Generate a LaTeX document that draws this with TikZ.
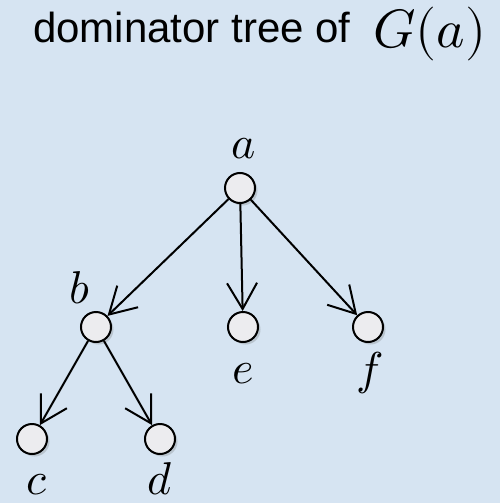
\documentclass[tikz,border=0pt]{standalone}
\usepackage{fontspec}
\usepackage{unicode-math}
\setmathfont{Latin Modern Math}
\newfontfamily\titlefont{Liberation Sans}
\usetikzlibrary{arrows.meta,shadows}
\definecolor{bgblue}{RGB}{214,228,242}
\definecolor{nodefill}{RGB}{236,236,239}
\tikzset{
  vert/.style={circle, draw=black, line width=2pt, fill=nodefill, minimum size=30pt, inner sep=0pt,
    drop shadow={shadow xshift=2.5pt, shadow yshift=-2.5pt, opacity=0.25, fill=black!60}},
  lbl/.style={anchor=base, inner sep=0pt, font=\fontsize{46}{46}\selectfont},
  edge/.style={line width=2pt, -{Straight Barb[length=26pt,width=30pt,line width=2pt]}, shorten >=0pt}
}
\begin{document}
\begin{tikzpicture}[x=1pt,y=-1pt]
\fill[bgblue] (0,0) rectangle (500,503);
\useasboundingbox (0,0) rectangle (500,503);
\node[anchor=base west, inner sep=0pt, font=\titlefont\fontsize{42}{42}\selectfont] (title) at (33,43) {dominator tree of};
\node[anchor=base west, inner sep=0pt, font=\fontsize{54}{54}\selectfont] (ga) at (373,48) {$G(a)$};
\node[vert] (a) at (240,188) {};
\node[vert] (b) at (96,327) {};
\node[vert] (e) at (243,327) {};
\node[vert] (f) at (368,327) {};
\node[vert] (c) at (32,439) {};
\node[vert] (d) at (160,439) {};
\node[lbl] (la) at (244,158) {$a$};
\node[lbl] (lb) at (80,303) {$b$};
\node[lbl] (le) at (243,383) {$e$};
\node[lbl] (lf) at (370,384) {$f$};
\node[lbl] (lc) at (37,494) {$c$};
\node[lbl] (ld) at (160,494) {$d$};
\draw[edge] (a) -- (b);
\draw[edge] (a) -- (e);
\draw[edge] (a) -- (f);
\draw[edge] (b) -- (c);
\draw[edge] (b) -- (d);
\end{tikzpicture}
\end{document}
